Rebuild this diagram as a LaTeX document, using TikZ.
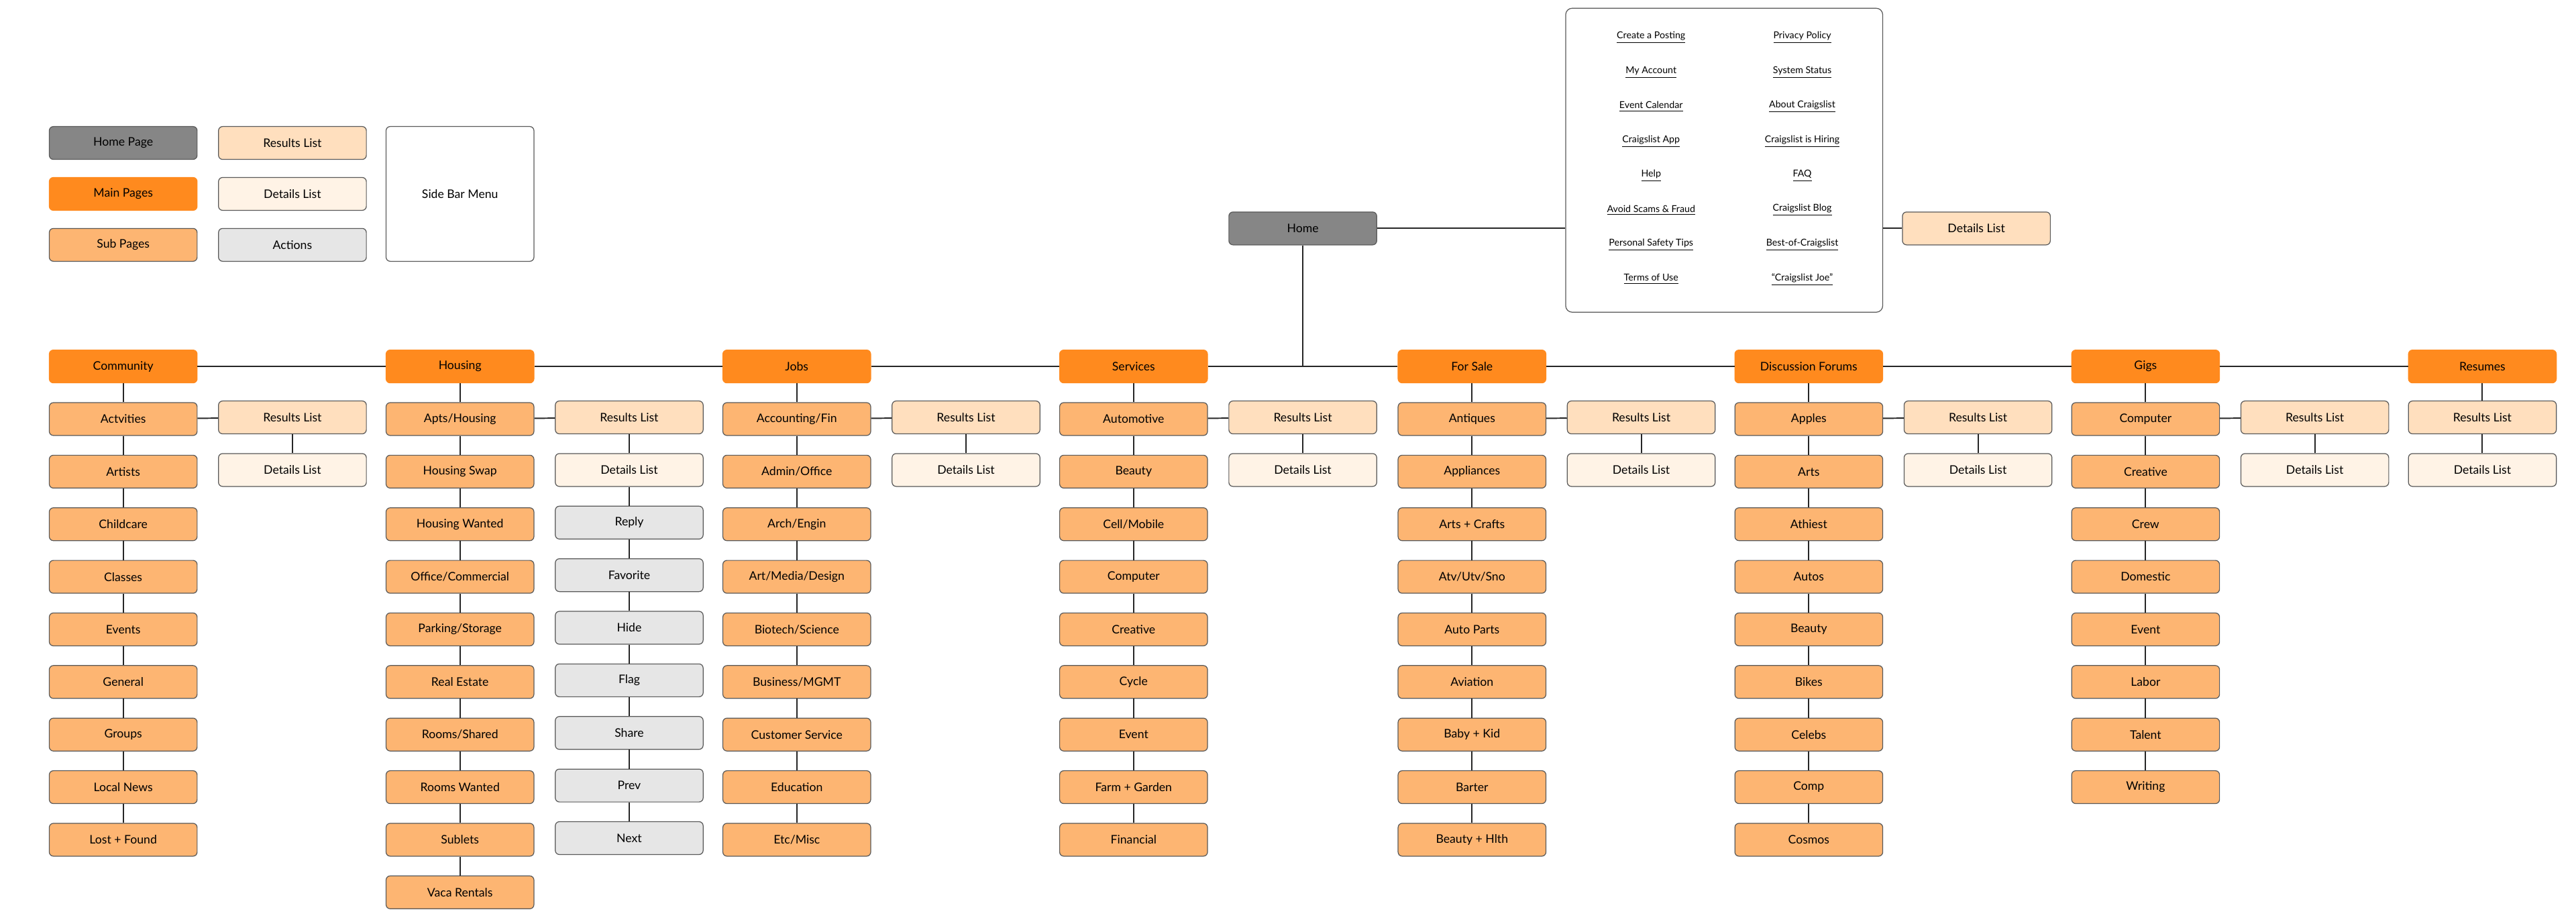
\documentclass[tikz,border=0pt]{standalone}
\usepackage{fontspec}
\setmainfont{Lato}
\begin{document}
\definecolor{homec}{HTML}{868686}
\definecolor{mainc}{HTML}{FF8A1E}
\definecolor{subc}{HTML}{FDB572}
\definecolor{resc}{HTML}{FFDFBE}
\definecolor{detc}{HTML}{FFF3E6}
\definecolor{actc}{HTML}{E6E6E6}
\begin{tikzpicture}[x=1pt,y=-1pt,
  box/.style={draw=black!65,rounded corners=2.5pt,minimum width=90pt,minimum height=20pt,inner sep=0pt,font=\fontsize{7.2}{8}\selectfont,line width=0.5pt},
  homeb/.style={box,fill=homec},
  mainb/.style={box,fill=mainc,draw=mainc},
  subb/.style={box,fill=subc},
  resb/.style={box,fill=resc},
  detb/.style={box,fill=detc},
  actb/.style={box,fill=actc},
  link/.style={font=\fontsize{5.8}{7}\selectfont},
  conn/.style={line width=0.8pt,black!85}]
\useasboundingbox (0,0) rectangle (1568,562);
% legend
\node[homeb] (lh) at (75,87) {Home Page};
\node[mainb] (lm) at (75,118) {Main Pages};
\node[subb] (ls) at (75,149) {Sub Pages};
\node[resb] (lr) at (178,87) {Results List};
\node[detb] (ld) at (178,118) {Details List};
\node[actb] (la) at (178,149) {Actions};
\node[box,fill=white,minimum height=82pt] (lsb) at (280,118) {Side Bar Menu};
% home
\node[homeb] (home) at (793,139) {Home};
\node[box,fill=white,minimum width=193pt,minimum height=185pt,rounded corners=4pt] (sb) at (1049.5,97.5) {};
\node[resb] (hd) at (1203,139) {Details List};
\draw[conn] (home) -- (home -| sb.west);
\draw[conn] (sb.east |- hd) -- (hd);
\foreach \l/\r [count=\i] in {Create a Posting/Privacy Policy, My Account/System Status, Event Calendar/About Craigslist, Craigslist App/Craigslist is Hiring, Help/FAQ/Abuse/Legal/Craigslist Open Source, Avoid Scams \& Fraud/Craigslist Blog, Personal Safety Tips/Best-of-Craigslist, Terms of Use/“Craigslist Joe”}{
  \node[link] (sl\i) at (1005,{2+21*\i}) {\underline{\l}};
  \node[link] (sr\i) at (1097,{2+21*\i}) {\underline{\r}};
}
% columns
\foreach \x/\t/\items [count=\c] in {
 75/Community/{Actvities,Artists,Childcare,Classes,Events,General,Groups,Local News,Lost + Found},
 280/Housing/{Apts/Housing,Housing Swap,Housing Wanted,Office/Commercial,Parking/Storage,Real Estate,Rooms/Shared,Rooms Wanted,Sublets,Vaca Rentals},
 485/Jobs/{Accounting/Fin,Admin/Office,Arch/Engin,Art/Media/Design,Biotech/Science,Business/MGMT,Customer Service,Education,Etc/Misc},
 690/Services/{Automotive,Beauty,Cell/Mobile,Computer,Creative,Cycle,Event,Farm + Garden,Financial},
 896/For Sale/{Antiques,Appliances,Arts + Crafts,Atv/Utv/Sno,Auto Parts,Aviation,Baby + Kid,Barter,Beauty + Hlth},
 1101/Discussion Forums/{Apples,Arts,Athiest,Autos,Beauty,Bikes,Celebs,Comp,Cosmos},
 1306/Gigs/{Computer,Creative,Crew,Domestic,Event,Labor,Talent,Writing}}{
  \node[mainb] (s\c-0) at (\x,223) {\t};
  \foreach \lab [count=\r] in \items {
    \pgfmathtruncatemacro\p{\r-1}
    \node[subb] (s\c-\r) at (\x,{223+32*\r}) {\lab};
    \draw[conn] (s\c-\p) -- (s\c-\r);
  }
  \node[resb] (r\c) at (\x+103,254) {Results List};
  \node[detb] (d\c) at (\x+103,286) {Details List};
  \draw[conn] (s\c-1) -- (r\c);
  \draw[conn] (r\c) -- (d\c);
}
\node[mainb] (s8-0) at (1511,223) {Resumes};
\node[resb] (r8) at (1511,254) {Results List};
\node[detb] (d8) at (1511,286) {Details List};
\draw[conn] (s8-0) -- (r8);
\draw[conn] (r8) -- (d8);
\foreach \a [count=\b from 2] in {1,...,7} {\draw[conn] (s\a-0) -- (s\b-0);}
\coordinate (hj) at (793,223);
\draw[conn] (home) -- (hj);
% actions
\foreach \lab [count=\r] in {Reply,Favorite,Hide,Flag,Share,Prev,Next}{
  \node[actb] (a\r) at (383,{286+32*\r}) {\lab};
}
\draw[conn] (d2) -- (a1);
\foreach \a [count=\b from 2] in {1,...,6} {\draw[conn] (a\a) -- (a\b);}
\end{tikzpicture}
\end{document}
